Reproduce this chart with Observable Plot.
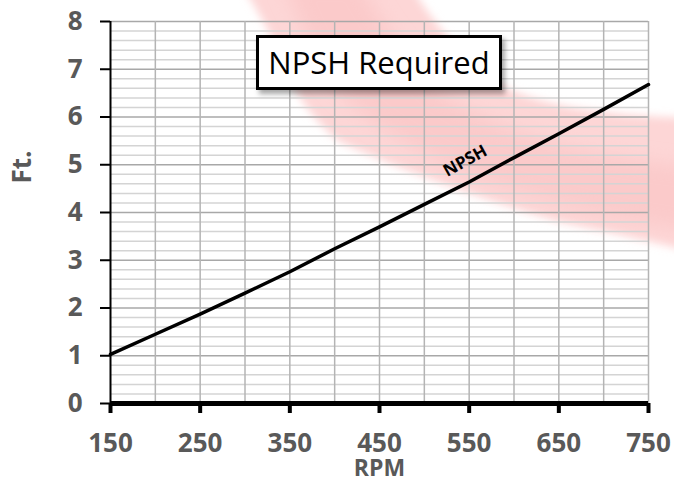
<!DOCTYPE html>
<html>
<head>
<meta charset="utf-8">
<script src="https://cdn.jsdelivr.net/npm/d3@7"></script>
<script src="https://cdn.jsdelivr.net/npm/@observablehq/plot@0.6"></script>
<style>
  html, body { margin: 0; padding: 0; background: #ffffff; }
  #wrap { position: relative; width: 674px; height: 484px; overflow: hidden; }
  #wm { position: absolute; left: 0; top: 0; z-index: 0; }
  #chart { position: absolute; left: 0; top: 0; z-index: 1; }
  #chart svg { background: transparent; }
  #title {
    position: absolute; z-index: 2; left: 256px; top: 35px; width: 246px; height: 55px;
    box-sizing: border-box; border: 3px solid #000; background: #fff;
    box-shadow: 3px 4px 5px rgba(0,0,0,0.35);
    font-family: "Open Sans", sans-serif; font-size: 31px; color: #000;
    display: flex; align-items: center; justify-content: center; line-height: 1;
  }
</style>
</head>
<body>
<div id="wrap">
  <svg id="wm" width="674" height="484" viewBox="0 0 674 484">
    <defs>
      <filter id="blur1" x="-20%" y="-20%" width="140%" height="140%"><feGaussianBlur stdDeviation="4"/></filter>
      <filter id="blur2" x="-20%" y="-20%" width="140%" height="140%"><feGaussianBlur stdDeviation="9"/></filter>
    </defs>
    <path filter="url(#blur1)" fill="#fdd6d6"
      d="M 238 -20 L 408 -20 Q 440 40 500 85 Q 560 116 700 118 L 700 254 Q 640 238 560 222 Q 440 187 340 142 Q 300 110 285 65 Q 262 15 238 -20 Z"/>
    <path filter="url(#blur2)" fill="#fbcaca"
      d="M 282 -20 L 358 -20 Q 390 40 440 92 Q 520 150 700 168 L 700 232 Q 600 220 480 180 Q 362 130 322 70 Q 302 25 282 -20 Z"/>
  </svg>
  <div id="chart"></div>
  <div id="title">NPSH Required</div>
</div>
<script>
// Data
const rpm  = [150, 200, 250, 300, 350, 400, 450, 500, 550, 600, 650, 700, 750];
const npsh = [1.03, 1.45, 1.87, 2.31, 2.76, 3.24, 3.70, 4.17, 4.64, 5.15, 5.65, 6.16, 6.68];

const xTicks = [150, 250, 350, 450, 550, 650, 750];
const xGrid  = [200, 250, 300, 350, 400, 450, 500, 550, 600, 650, 700, 750];
const yTicks = [0, 1, 2, 3, 4, 5, 6, 7, 8];
const yMinor = [0.2, 0.4, 0.6, 0.8, 1.2, 1.4, 1.6, 1.8, 2.2, 2.4, 2.6, 2.8,
                3.2, 3.4, 3.6, 3.8, 4.2, 4.4, 4.6, 4.8, 5.2, 5.4, 5.6, 5.8,
                6.2, 6.4, 6.6, 6.8, 7.2, 7.4, 7.6, 7.8];
const seriesLabel = "NPSH";
const labelAt = 550;

const data = rpm.map((r, i) => ({rpm: r, npsh: npsh[i]}));
const labelRow = data.filter(d => d.rpm === labelAt);

const gray = "#595959";

const plot = Plot.plot({
  width: 674,
  height: 484,
  marginLeft: 110,
  marginRight: 26,
  marginTop: 21,
  marginBottom: 81,
  x: {domain: [150, 750]},
  y: {domain: [0, 8]},
  style: {fontFamily: "Open Sans, sans-serif", fontSize: "26px", fontWeight: "bold", color: gray, background: "transparent"},
  marks: [
    Plot.ruleY(yMinor, {stroke: "#d4d4d4", strokeWidth: 1.5}),
    Plot.ruleY(yTicks, {stroke: "#a8a8a8", strokeWidth: 1.5}),
    Plot.ruleX(xGrid, {stroke: "#b4b4b4", strokeWidth: 1.5}),
    Plot.ruleX([150], {stroke: "#000", strokeWidth: 2}),
    Plot.axisY({ticks: yTicks, tickSize: 10, tickPadding: 18, stroke: "#000", strokeWidth: 2,
                fill: gray, fontSize: 26, fontWeight: "bold", label: null}),
    Plot.axisX({ticks: xTicks, tickSize: 10, tickPadding: 20, stroke: "#000", strokeWidth: 4,
                fill: gray, fontSize: 26, fontWeight: "bold", label: null}),
    Plot.ruleY([0], {stroke: "#000", strokeWidth: 5}),
    Plot.line(data, {x: "rpm", y: "npsh", stroke: "#000", strokeWidth: 3.5}),
    Plot.text(labelRow, {x: "rpm", y: "npsh", text: () => seriesLabel, rotate: -29, dx: -4, dy: -21,
                         fill: "#000", fontSize: 17, fontWeight: "bold"}),
    Plot.text(["RPM"], {frameAnchor: "bottom", dy: 72, fill: gray, fontSize: 23, fontWeight: "bold"}),
    Plot.text(["Ft."], {frameAnchor: "left", dx: -88, dy: -29, rotate: -90, fill: gray, fontSize: 26, fontWeight: "bold"})
  ]
});
document.getElementById("chart").appendChild(plot);
</script>
</body>
</html>
